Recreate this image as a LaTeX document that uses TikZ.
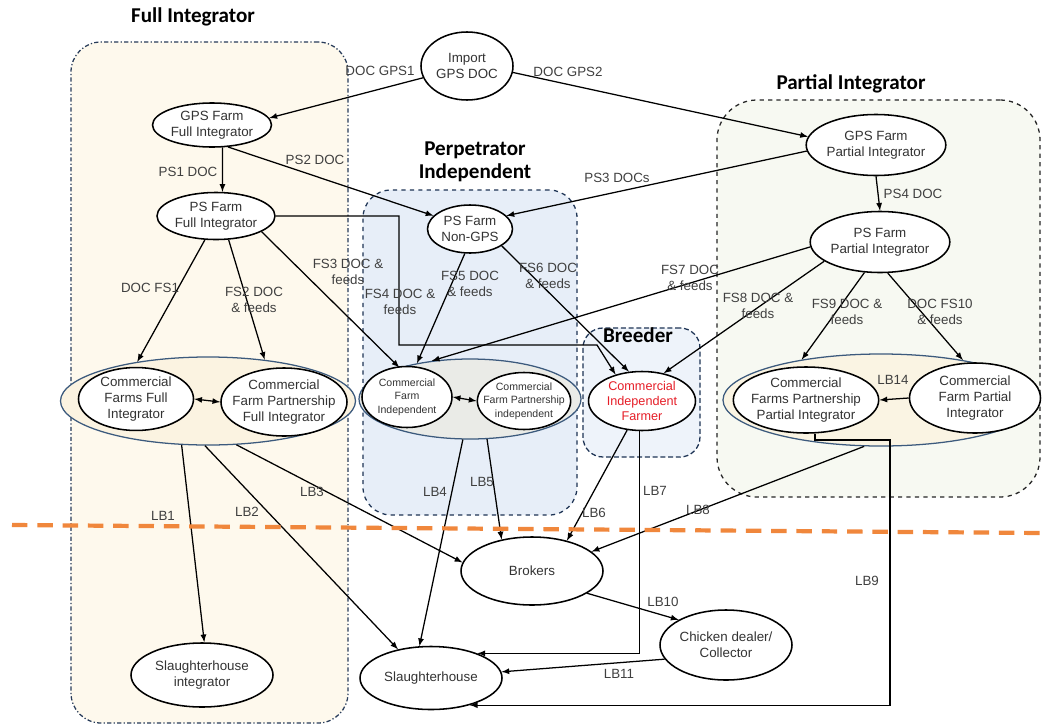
\documentclass[tikz,border=0pt]{standalone}
\usepackage{fontspec}
\setmainfont{Liberation Sans}
\newfontfamily\titlefont{Carlito}
\usetikzlibrary{positioning,arrows,shapes}
\definecolor{fullfill}{RGB}{254,249,237}
\definecolor{fullline}{RGB}{40,60,90}
\definecolor{perpfill}{RGB}{231,238,248}
\definecolor{perpline}{RGB}{30,52,85}
\definecolor{breedfill}{RGB}{238,243,250}
\definecolor{partfill}{RGB}{247,249,242}
\definecolor{groupline}{RGB}{60,90,125}
\definecolor{fgrpfill}{RGB}{251,243,225}
\definecolor{igrpfill}{RGB}{234,235,231}
\definecolor{pgrpfill}{RGB}{250,244,227}
\definecolor{cutline}{RGB}{240,135,60}
\definecolor{farmred}{RGB}{230,30,40}
\tikzset{
	region base/.style={rectangle, line width=0.9pt, minimum width=#1},
	farm base/.style={draw, ellipse, line width=1.1pt, fill=white, inner sep=0pt, align=center, text=black!80, font=\fontsize{9.5}{11.4}\selectfont},
	group base/.style={draw=groupline, ellipse, line width=0.9pt, inner sep=0pt},
	title/.style={font=\titlefont\bfseries\fontsize{15}{16.5}\selectfont, align=center},
	lbl/.style={font=\fontsize{9.5}{11.4}\selectfont, text=black!75, align=center, inner sep=1pt},
	link/.style={-latex, line width=0.9pt},
}

\begin{document}
\begin{tikzpicture}[x=0.25mm,y=-0.25mm]
	\path[use as bounding box, fill=white] (0,0) rectangle (1042,725);

	% Regions
	\node [region base=69.25mm,minimum height=170.25mm,rounded corners=7.5mm,draw=fullline,dash pattern=on 3pt off 1.6pt on 0.9pt off 1.6pt,fill=fullfill] (fullreg) at (209.5,382.5) {};
	\node [region base=53.5mm,minimum height=81.25mm,rounded corners=7mm,draw=perpline,dashed,fill=perpfill] (perpreg) at (470,352.5) {};
	\node [region base=29.25mm,minimum height=32.25mm,rounded corners=5mm,draw=perpline,dash pattern=on 3.5pt off 2pt,fill=breedfill] (breedreg) at (641.5,392.5) {};
	\node [region base=80.75mm,minimum height=99.25mm,rounded corners=10mm,draw=black!85,dashed,fill=partfill] (partreg) at (878.5,298.5) {};

	\node [title] (fulltitle) at (193,17) {Full Integrator};
	\node [title] (perptitle) at (475,162) {Perpetrator\\Independent};
	\node [title] (parttitle) at (851,84) {Partial Integrator};
	\node [title] (breedtitle) at (638,335) {Breeder};

	% Farm groups
	\node [group base,fill=fgrpfill,minimum width=73.75mm,minimum height=22mm] (fgrp) at (208,401) {};
	\node [group base,fill=igrpfill,minimum width=55.5mm,minimum height=20mm] (igrp) at (470,399) {};
	\node [group base,fill=pgrpfill,minimum width=79mm,minimum height=23mm] (pgrp) at (881,400) {};

	% Farms
	\node [farm base,minimum width=23mm,minimum height=17mm] (imp) at (467,66) {Import\\GPS DOC};
	\node [farm base,minimum width=29.75mm,minimum height=11mm] (gfi) at (212,125) {GPS Farm\\Full Integrator};
	\node [farm base,minimum width=29.5mm,minimum height=11.75mm] (pfi) at (216,216) {PS Farm\\Full Integrator};
	\node [farm base,minimum width=34mm,minimum height=15.25mm] (gpi) at (876,145) {GPS Farm\\Partial Integrator};
	\node [farm base,minimum width=33.5mm,minimum height=15.25mm] (ppi) at (880,242) {PS Farm\\Partial Integrator};
	\node [farm base,minimum width=21.25mm,minimum height=12mm] (ng) at (470,229) {PS Farm\\Non-GPS};
	\node [farm base,minimum width=28.75mm,minimum height=15.5mm] (cfFI) at (136,399) {Commercial\\Farms Full\\Integrator};
	\node [farm base,minimum width=31.5mm,minimum height=17mm,inner xsep=-5pt] (cpFI) at (284,402) {Commercial\\Farm Partnership\\Full Integrator};
	\node [farm base,minimum width=22.5mm,minimum height=15.25mm,font=\fontsize{7.5}{9.5}\selectfont] (cfI) at (407,397) {Commercial\\Farm\\Independent};
	\node [farm base,minimum width=23mm,minimum height=14.25mm,inner xsep=-5.5pt,font=\fontsize{7.5}{9.5}\selectfont] (cpI) at (524,401) {Commercial\\Farm Partnership\\independent};
	\node [farm base,minimum width=26.75mm,minimum height=14.75mm,text=farmred,font=\fontsize{9}{10.7}\selectfont] (cif) at (642,401) {Commercial\\Independent\\Farmer};
	\node [farm base,minimum width=36.25mm,minimum height=16.5mm,inner xsep=-2.5pt] (cpPI) at (806,400) {Commercial\\Farms Partnership\\Partial Integrator};
	\node [farm base,minimum width=32.75mm,minimum height=17.5mm] (cfPI) at (975,398) {Commercial\\Farm Partial\\Integrator};
	\node [farm base,minimum width=35.5mm,minimum height=17mm] (brk) at (532,571) {Brokers};
	\node [farm base,minimum width=33mm,minimum height=17.5mm,inner xsep=-2pt] (chk) at (726,645) {Chicken dealer/\\Collector};
	\node [farm base,minimum width=35.5mm,minimum height=15.75mm] (slh) at (431,678) {Slaughterhouse};
	\node [farm base,minimum width=35.5mm,minimum height=16mm] (shi) at (202,675) {Slaughterhouse\\integrator};

	% DOC and feed flows
	\draw [link] (imp.195) -- (gfi.7);
	\draw [link] (imp.-8) -- (gpi.173);
	\draw [link] (gfi.-65) -- (pfi.75);
	\draw [link] (gfi.-54) -- (ng.160);
	\draw [link] (gpi.185) -- (ng.20);
	\draw [link] (gpi.south) -- (ppi.north);
	\draw [link] (pfi.-115) -- (fgrp.151);
	\draw [link] (pfi.-62) -- (fgrp.36);
	\draw [link] (pfi.-19) -- (igrp.156);
	\draw [link] (pfi.east) -| (399,345) -- (597,345) -- (cif.135);
	\draw [link] (ng.-102) -- (igrp.146);
	\draw [link] (ng.-28) -- (cif.114);
	\draw [link] (ppi.184) -- (igrp.135);
	\draw [link] (ppi.199) -- (cif.52);
	\draw [link] (ppi.-117) -- (pgrp.153);
	\draw [link] (ppi.-76) -- (pgrp.26);
	\draw [latex-latex,line width=0.9pt] (cfFI.east) -- (cpFI.west);
	\draw [latex-latex,line width=0.9pt] (cfI.east) -- (cpI.west);
	\draw [link] (cfPI.west) -- (cpPI.east);

	% Live bird flows
	\draw [link] (fgrp.-121) -- (shi.86);
	\draw [link] (fgrp.-94) -- (slh.139);
	\draw [link] (fgrp.-57) -- (brk.173);
	\draw [link] (igrp.-100) -- (slh.110);
	\draw [link] (igrp.-67) -- (brk.134);
	\draw [link] (cif.-117) -- (brk.41);
	\draw [link] (cif.-95) |- (slh.28);
	\draw [link] (pgrp.250) -- (brk.18);
	\draw [link] (cpPI.-75) |- (890,440) |- (slh.-35);
	\draw [link] (brk.-22) -- (chk.152);
	\draw [link] (chk.193) -- (slh.5);

	\draw [cutline,line width=3pt,dash pattern=on 11pt off 7pt] (12,525) -- (1042,533);

	% Labels
	\node [lbl] (docgps1) at (380,71) {DOC GPS1};
	\node [lbl] (docgps2) at (568,72) {DOC GPS2};
	\node [lbl] (ps1) at (188,172) {PS1 DOC};
	\node [lbl] (ps2) at (315,160) {PS2 DOC};
	\node [lbl] (ps3) at (617,178) {PS3 DOCs};
	\node [lbl] (ps4) at (913,194) {PS4 DOC};
	\node [lbl] (fs1) at (150,288) {DOC FS1};
	\node [lbl] (fs2) at (254,300) {FS2 DOC\\\& feeds};
	\node [lbl] (fs3) at (348,272) {FS3 DOC \&\\feeds};
	\node [lbl] (fs4) at (400,302) {FS4 DOC \&\\feeds};
	\node [lbl] (fs5) at (470,284) {FS5 DOC\\\& feeds};
	\node [lbl] (fs6) at (548,276) {FS6 DOC\\\& feeds};
	\node [lbl] (fs7) at (690,278) {FS7 DOC\\\& feeds};
	\node [lbl] (fs8) at (758,306) {FS8 DOC \&\\feeds};
	\node [lbl] (fs9) at (847,312) {FS9 DOC \&\\feeds};
	\node [lbl] (fs10) at (940,312) {DOC FS10\\\& feeds};
	\node [lbl] (lb14) at (893,380) {LB14};
	\node [lbl] (lb1) at (163,516) {LB1};
	\node [lbl] (lb2) at (247,512) {LB2};
	\node [lbl] (lb3) at (312,492) {LB3};
	\node [lbl] (lb4) at (435,492) {LB4};
	\node [lbl] (lb5) at (482,482) {LB5};
	\node [lbl] (lb6) at (594,513) {LB6};
	\node [lbl] (lb7) at (655,491) {LB7};
	\node [lbl] (lb8) at (698,510) {LB8};
	\node [lbl] (lb9) at (867,581) {LB9};
	\node [lbl] (lb10) at (663,602) {LB10};
	\node [lbl] (lb11) at (619,674) {LB11};
\end{tikzpicture}
\end{document}
